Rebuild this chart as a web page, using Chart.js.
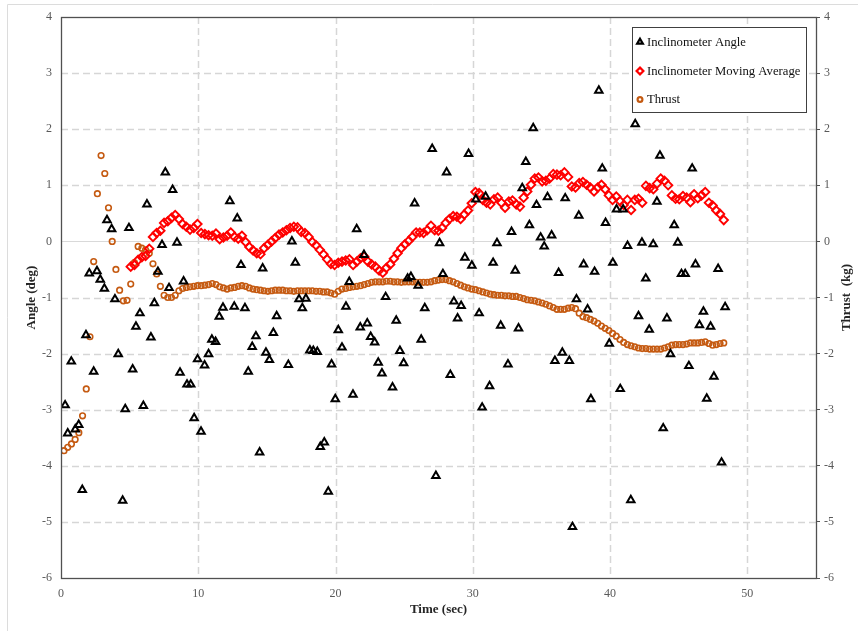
<!DOCTYPE html>
<html>
<head>
<meta charset="utf-8">
<script src="https://cdn.jsdelivr.net/npm/chart.js@4/dist/chart.umd.min.js"></script>
<style>
  html, body { margin: 0; padding: 0; background: #ffffff; }
  canvas { display: block; }
</style>
</head>
<body>
<canvas id="chart" width="858" height="631"></canvas>
<script>
// Inclinometer readings (deg) with their sample times (sec)
const angleTime = [0.30,0.49,0.75,1.04,1.29,1.55,1.82,2.06,2.38,2.62,2.86,3.16,3.35,3.69,3.93,4.17,4.49,4.68,4.95,5.22,5.46,5.75,6.00,6.26,6.55,6.80,7.06,7.36,7.60,7.87,8.13,8.45,8.67,8.93,9.18,9.45,9.70,9.95,10.20,10.46,10.75,10.99,11.26,11.53,11.80,12.30,12.62,12.84,13.11,13.40,13.64,13.93,14.20,14.47,14.69,14.93,15.18,15.47,15.71,16.56,16.82,17.07,17.34,17.58,17.84,18.13,18.38,18.67,18.89,19.18,19.47,19.71,19.98,20.20,20.47,20.76,21.00,21.27,21.54,21.80,22.07,22.31,22.56,22.85,23.11,23.38,23.65,24.15,24.42,24.69,24.96,25.25,25.49,25.76,26.02,26.24,26.50,27.04,27.31,27.58,27.82,28.09,28.36,28.62,28.89,29.15,29.42,29.69,29.93,30.22,30.46,30.68,30.93,31.22,31.48,31.76,32.03,32.56,32.82,33.09,33.33,33.60,33.86,34.12,34.40,34.64,34.94,35.20,35.44,35.74,35.98,36.25,36.52,36.73,37.03,37.26,37.55,37.72,38.07,38.36,38.60,38.87,39.18,39.43,39.67,39.94,40.20,40.47,40.74,40.95,41.27,41.51,41.83,42.07,42.32,42.60,42.85,43.14,43.41,43.63,43.87,44.14,44.40,44.67,44.93,45.20,45.47,45.74,45.98,46.22,46.51,46.80,47.04,47.32,47.56,47.87,48.12,48.38];
const angleDeg = [-2.92,-3.42,-2.14,-3.35,-3.27,-4.43,-1.67,-0.57,-2.32,-0.53,-0.68,-0.84,0.38,0.22,-1.03,-2.01,-4.62,-2.99,0.24,-2.28,-1.52,-1.28,-2.93,0.66,-1.71,-1.10,-0.54,-0.06,1.23,-0.83,0.92,-0.02,-2.34,-0.71,-2.55,-2.55,-3.15,-2.10,-3.39,-2.21,-2.01,-1.75,-1.79,-1.34,-1.18,0.72,-1.16,0.41,-0.42,-1.19,-2.32,-1.88,-1.69,-3.76,-0.48,-1.98,-2.11,-1.63,-1.33,-2.20,0.00,-0.38,-1.03,-1.19,-1.02,-1.94,-1.95,-1.97,-3.66,-3.58,-4.46,-2.19,-2.81,-1.58,-1.89,-1.16,-0.72,-2.73,0.22,-1.53,-0.24,-1.46,-1.70,-1.80,-2.16,-2.35,-0.99,-2.60,-1.41,-1.95,-2.17,-0.66,-0.63,0.68,-0.79,-1.75,-1.19,1.65,-4.18,-0.03,-0.58,1.23,-2.38,-1.07,-1.37,-1.15,-0.29,1.56,-0.43,0.75,-1.28,-2.96,0.80,-2.58,-0.38,-0.03,-1.50,-2.19,0.17,-0.52,-1.55,0.95,1.42,0.29,2.02,0.65,0.07,-0.09,0.79,0.11,-2.13,-0.56,-1.98,0.77,-2.13,-5.09,-1.03,0.46,-0.41,-1.21,-2.81,-0.54,2.69,1.30,0.33,-1.82,-0.38,0.57,-2.63,0.57,-0.08,-4.61,2.09,-1.33,-0.02,-0.66,-1.57,-0.05,0.71,1.53,-3.33,-1.37,-2.01,0.29,-0.02,-0.58,-0.58,-2.22,1.30,-0.41,-1.49,-1.25,-2.80,-1.52,-2.41,-0.49,-3.94,-1.17];

// Sample times (sec) shared by the moving average and the thrust log
const sampleTime = [0.22,0.49,0.76,1.03,1.30,1.57,1.84,2.11,2.38,2.65,2.92,3.19,3.46,3.73,4.00,4.27,4.54,4.81,5.08,5.35,5.62,5.89,6.16,6.43,6.70,6.97,7.24,7.51,7.78,8.05,8.32,8.59,8.86,9.13,9.40,9.67,9.94,10.21,10.48,10.75,11.02,11.29,11.56,11.83,12.10,12.37,12.64,12.91,13.18,13.45,13.72,13.99,14.26,14.53,14.80,15.07,15.34,15.61,15.88,16.15,16.42,16.69,16.96,17.23,17.50,17.77,18.04,18.31,18.58,18.85,19.12,19.39,19.66,19.93,20.20,20.47,20.74,21.01,21.28,21.55,21.82,22.09,22.36,22.63,22.90,23.17,23.44,23.71,23.98,24.25,24.52,24.79,25.06,25.33,25.60,25.87,26.14,26.41,26.68,26.95,27.22,27.49,27.76,28.03,28.30,28.57,28.84,29.11,29.38,29.65,29.92,30.19,30.46,30.73,31.00,31.27,31.54,31.81,32.08,32.35,32.62,32.89,33.16,33.43,33.70,33.97,34.24,34.51,34.78,35.05,35.32,35.59,35.86,36.13,36.40,36.67,36.94,37.21,37.48,37.75,38.02,38.29,38.56,38.83,39.10,39.37,39.64,39.91,40.18,40.45,40.72,40.99,41.26,41.53,41.80,42.07,42.34,42.61,42.88,43.15,43.42,43.69,43.96,44.23,44.50,44.77,45.04,45.31,45.58,45.85,46.12,46.39,46.66,46.93,47.20,47.47,47.74,48.01,48.28];

// Moving average of the inclinometer angle (deg); starts once the window is full
const movingAvgDeg = [null,null,null,null,null,null,null,null,null,null,null,null,null,null,null,null,null,null,
  -0.45,-0.42,-0.33,-0.28,-0.26,-0.13,0.08,0.15,0.19,0.33,0.36,0.42,0.47,0.40,0.31,0.26,0.21,0.24,0.31,0.15,0.13,0.11,
  0.10,0.14,0.04,0.07,0.10,0.16,0.08,0.05,0.10,-0.01,-0.10,-0.16,-0.21,-0.23,-0.12,-0.06,0.00,0.06,0.12,0.16,
  0.20,0.24,0.26,0.25,0.17,0.15,0.08,-0.01,-0.07,-0.15,-0.23,-0.32,-0.40,-0.42,-0.38,-0.36,-0.34,-0.32,-0.42,-0.36,
  -0.30,-0.27,-0.36,-0.41,-0.45,-0.52,-0.56,-0.47,-0.41,-0.31,-0.21,-0.12,-0.05,0.01,0.08,0.16,0.16,0.15,0.20,0.28,
  0.20,0.19,0.24,0.33,0.40,0.45,0.44,0.40,0.48,0.55,0.68,0.88,0.86,0.74,0.69,0.66,0.75,0.78,0.69,0.60,
  0.71,0.73,0.66,0.62,0.78,0.89,1.01,1.12,1.14,1.07,1.08,1.12,1.20,1.19,1.18,1.23,1.15,0.98,0.96,1.04,
  1.06,1.01,0.96,0.89,0.96,1.01,0.93,0.82,0.74,0.80,0.72,0.65,0.74,0.56,0.74,0.76,0.69,0.99,0.95,0.93,
  1.03,1.12,1.08,1.00,0.82,0.76,0.75,0.81,0.78,0.70,0.84,0.77,0.82,0.88,0.69,0.64,0.55,0.49,0.38];

// Thrust (kg)
const thrustKg = [-3.73,-3.67,-3.61,-3.53,-3.41,-3.11,-2.63,-1.70,-0.36,0.85,1.53,1.21,0.60,0.00,-0.50,-0.87,-1.06,-1.05,-0.76,-0.38,
  -0.09,-0.12,-0.15,-0.21,-0.40,-0.58,-0.80,-0.96,-1.00,-1.00,-0.96,-0.88,-0.84,-0.82,-0.81,-0.80,-0.79,-0.79,-0.78,-0.77,
  -0.75,-0.77,-0.81,-0.83,-0.85,-0.83,-0.82,-0.80,-0.79,-0.80,-0.83,-0.85,-0.86,-0.87,-0.88,-0.89,-0.88,-0.87,-0.87,-0.87,
  -0.88,-0.88,-0.89,-0.88,-0.88,-0.88,-0.88,-0.88,-0.89,-0.89,-0.90,-0.90,-0.92,-0.94,-0.89,-0.85,-0.84,-0.82,-0.81,-0.80,
  -0.79,-0.77,-0.75,-0.73,-0.72,-0.72,-0.72,-0.71,-0.71,-0.72,-0.72,-0.73,-0.72,-0.72,-0.72,-0.73,-0.73,-0.73,-0.73,-0.72,
  -0.70,-0.69,-0.68,-0.68,-0.70,-0.72,-0.75,-0.78,-0.81,-0.83,-0.85,-0.86,-0.88,-0.90,-0.92,-0.94,-0.95,-0.96,-0.96,-0.97,
  -0.97,-0.98,-0.98,-1.00,-1.02,-1.04,-1.05,-1.06,-1.08,-1.10,-1.12,-1.15,-1.18,-1.21,-1.21,-1.21,-1.19,-1.18,-1.20,-1.28,
  -1.34,-1.36,-1.39,-1.42,-1.46,-1.51,-1.55,-1.59,-1.64,-1.69,-1.75,-1.80,-1.84,-1.86,-1.88,-1.90,-1.91,-1.91,-1.92,-1.92,
  -1.92,-1.92,-1.90,-1.88,-1.85,-1.84,-1.84,-1.84,-1.83,-1.81,-1.81,-1.81,-1.80,-1.79,-1.82,-1.85,-1.84,-1.82,-1.81];

// Axis tick values
const timeTicks = [0, 10, 20, 30, 40, 50];
const valueTicks = [-6, -5, -4, -3, -2, -1, 0, 1, 2, 3, 4];

const seriesNames = ['Inclinometer Angle', 'Inclinometer Moving Average', 'Thrust'];

const SERIF = '"Liberation Serif", "Times New Roman", serif';
const TICK_COLOR = '#595959';
const THRUST_COLOR = '#C55A11';

const pairs = (xs, ys) => xs.map((x, i) => ({ x: x, y: ys[i] })).filter(p => p.y !== null);

// Dashed grid lines, solid zero line and plot frame
const gridPlugin = {
  id: 'plotGrid',
  beforeDatasetsDraw(chart) {
    const { ctx, chartArea: a, scales } = chart;
    const xs = scales.x, ys = scales.y;
    ctx.save();
    ctx.lineWidth = 1.5;
    ctx.strokeStyle = '#d6d6d6';
    ctx.setLineDash([7, 4]);
    valueTicks.forEach(v => {
      if (v === 0 || v === valueTicks[0] || v === valueTicks[valueTicks.length - 1]) return;
      const y = Math.round(ys.getPixelForValue(v)) + 0.5;
      ctx.beginPath(); ctx.moveTo(a.left, y); ctx.lineTo(a.right, y); ctx.stroke();
    });
    timeTicks.forEach(v => {
      if (v === 0) return;
      const x = Math.round(xs.getPixelForValue(v)) + 0.5;
      ctx.beginPath(); ctx.moveTo(x, a.top); ctx.lineTo(x, a.bottom); ctx.stroke();
    });
    ctx.setLineDash([]);
    ctx.lineWidth = 1;
    ctx.strokeStyle = '#d9d9d9';
    const y0 = Math.round(ys.getPixelForValue(0)) + 0.5;
    ctx.beginPath(); ctx.moveTo(a.left, y0); ctx.lineTo(a.right, y0); ctx.stroke();
    ctx.restore();
  },
  afterDatasetsDraw(chart) {
    const { ctx, chartArea: a } = chart;
    ctx.save();
    ctx.strokeStyle = '#505050';
    ctx.lineWidth = 1.3;
    ctx.strokeRect(Math.round(a.left) + 0.5, Math.round(a.top) + 0.5,
                   Math.round(a.right - a.left), Math.round(a.bottom - a.top));
    // light outer frame of the figure
    ctx.strokeStyle = '#dcdcdc';
    ctx.lineWidth = 1;
    ctx.beginPath();
    ctx.moveTo(7.5, chart.height); ctx.lineTo(7.5, 4.5); ctx.lineTo(chart.width, 4.5);
    ctx.stroke();
    ctx.restore();
  }
};

// Legend box inside the plot, plus the right-hand axis title
const legendPlugin = {
  id: 'boxLegend',
  afterDraw(chart) {
    const { ctx } = chart;
    ctx.save();
    const bx = 632.5, by = 27.5, bw = 174, bh = 85;
    ctx.fillStyle = '#ffffff';
    ctx.fillRect(bx, by, bw, bh);
    ctx.strokeStyle = '#404040';
    ctx.lineWidth = 1;
    ctx.strokeRect(bx, by, bw, bh);
    const rows = [42, 71, 99.5];
    chart.data.datasets.forEach((ds, i) => {
      const mx = 640, my = rows[i];
      ctx.lineWidth = 2.2;
      ctx.strokeStyle = ds.pointBorderColor;
      ctx.beginPath();
      if (ds.pointStyle === 'triangle') {
        const r = 3.3;
        ctx.moveTo(mx, my - r);
        ctx.lineTo(mx + r * 0.866, my + r * 0.5);
        ctx.lineTo(mx - r * 0.866, my + r * 0.5);
        ctx.closePath();
      } else if (ds.pointStyle === 'rectRot') {
        const r = 3.4;
        ctx.moveTo(mx, my - r); ctx.lineTo(mx + r, my); ctx.lineTo(mx, my + r); ctx.lineTo(mx - r, my);
        ctx.closePath();
      } else {
        ctx.arc(mx, my, 2.4, 0, Math.PI * 2);
      }
      ctx.stroke();
      ctx.fillStyle = '#111111';
      ctx.font = '12.7px ' + SERIF;
      ctx.textBaseline = 'middle';
      ctx.textAlign = 'left';
      ctx.fillText(ds.label, 647, my + 0.5);
    });
    // right axis title, reading upward
    const a = chart.chartArea;
    ctx.translate(847, (a.top + a.bottom) / 2);
    ctx.rotate(-Math.PI / 2);
    ctx.font = 'bold 13px ' + SERIF;
    ctx.fillStyle = '#262626';
    ctx.textAlign = 'center';
    ctx.textBaseline = 'middle';
    ctx.fillText('Thrust  (kg)', 0, 0);
    ctx.restore();
  }
};

const setTicks = values => scale => { scale.ticks = values.map(v => ({ value: v })); };

new Chart(document.getElementById('chart'), {
  type: 'scatter',
  data: {
    datasets: [
      {
        label: seriesNames[0],
        data: pairs(angleTime, angleDeg),
        yAxisID: 'y',
        pointStyle: 'triangle',
        pointRadius: 4.3,
        pointHoverRadius: 4.3,
        pointBorderWidth: 2,
        pointBorderColor: '#000000',
        pointBackgroundColor: 'rgba(0,0,0,0)',
        showLine: false
      },
      {
        label: seriesNames[1],
        data: pairs(sampleTime, movingAvgDeg),
        yAxisID: 'y',
        pointStyle: 'rectRot',
        pointRadius: 4.2,
        pointHoverRadius: 4.2,
        pointBorderWidth: 1.9,
        pointBorderColor: '#ff0000',
        pointBackgroundColor: 'rgba(0,0,0,0)',
        showLine: false
      },
      {
        label: seriesNames[2],
        data: pairs(sampleTime, thrustKg),
        yAxisID: 'y2',
        pointStyle: 'circle',
        pointRadius: 2.8,
        pointHoverRadius: 2.8,
        pointBorderWidth: 1.6,
        pointBorderColor: THRUST_COLOR,
        pointBackgroundColor: 'rgba(0,0,0,0)',
        showLine: false
      }
    ]
  },
  options: {
    responsive: false,
    animation: false,
    devicePixelRatio: 1,
    layout: { padding: { top: 17, left: 0, right: 0, bottom: 0 } },
    plugins: {
      legend: { display: false },
      tooltip: { enabled: false }
    },
    scales: {
      x: {
        type: 'linear',
        position: 'bottom',
        min: 0, max: 55,
        afterBuildTicks: setTicks(timeTicks),
        afterFit: s => { s.height = 53; },
        grid: { display: false, drawTicks: false },
        border: { display: false },
        ticks: {
          padding: 9,
          color: TICK_COLOR,
          font: { family: SERIF, size: 12 },
          callback: v => String(v)
        },
        title: {
          display: true,
          text: 'Time (sec)',
          color: '#262626',
          font: { family: SERIF, size: 13, weight: 'bold' },
          padding: { top: 0, bottom: 14 }
        }
      },
      y: {
        type: 'linear',
        position: 'left',
        min: -6, max: 4,
        afterBuildTicks: setTicks(valueTicks),
        afterFit: s => { s.width = 61; },
        grid: { display: false, drawTicks: false },
        border: { display: false },
        ticks: {
          padding: 9,
          color: TICK_COLOR,
          font: { family: SERIF, size: 12 },
          callback: v => String(v)
        },
        title: {
          display: true,
          text: 'Angle (deg)',
          color: '#262626',
          font: { family: SERIF, size: 13, weight: 'bold' },
          padding: { top: 24, bottom: 0 }
        }
      },
      y2: {
        type: 'linear',
        position: 'right',
        min: -6, max: 4,
        afterBuildTicks: setTicks(valueTicks),
        afterFit: s => { s.width = 42; },
        grid: {
          display: true,
          drawOnChartArea: false,
          drawTicks: true,
          tickLength: 4,
          tickColor: '#505050',
          tickWidth: 1
        },
        border: { display: false },
        ticks: {
          padding: 4,
          color: TICK_COLOR,
          font: { family: SERIF, size: 12 },
          callback: v => String(v)
        }
      }
    }
  },
  plugins: [gridPlugin, legendPlugin]
});
</script>
</body>
</html>
